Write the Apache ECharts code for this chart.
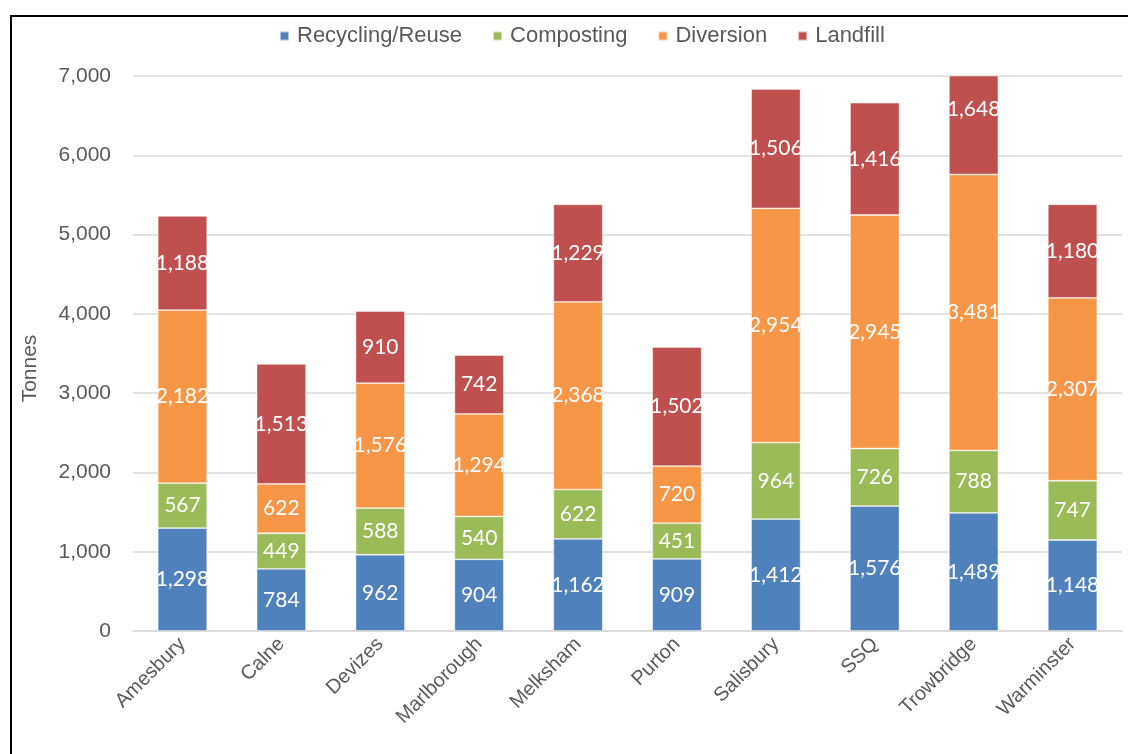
<!DOCTYPE html>
<html>
<head>
<meta charset="utf-8">
<script src="https://cdn.jsdelivr.net/npm/echarts@6/dist/echarts.min.js"></script>
<style>
  html, body { margin: 0; padding: 0; background: #fff; }
  #chart { width: 1128px; height: 754px; }
  #frame { position: absolute; left: 10px; top: 15px; width: 1140px; height: 760px;
           border: 2px solid #000; pointer-events: none; }
</style>
</head>
<body>
<div id="chart"></div>
<div id="frame"></div>
<script>
// Waste tonnages by household recycling centre
const sites = ['Amesbury', 'Calne', 'Devizes', 'Marlborough', 'Melksham', 'Purton',
               'Salisbury', 'SSQ', 'Trowbridge', 'Warminster'];
const recycling  = [1298, 784, 962, 904, 1162, 909, 1412, 1576, 1489, 1148];
const composting = [567, 449, 588, 540, 622, 451, 964, 726, 788, 747];
const diversion  = [2182, 622, 1576, 1294, 2368, 720, 2954, 2945, 3481, 2307];
const landfill   = [1188, 1513, 910, 742, 1229, 1502, 1506, 1416, 1648, 1180];

const seriesNames = ['Recycling/Reuse', 'Composting', 'Diversion', 'Landfill'];
const seriesColors = ['#4F81BD', '#9BBB59', '#F79646', '#C0504D'];
const seriesData = [recycling, composting, diversion, landfill];

const Y_MAX = 7000;
const AXIS_FONT = 'Liberation Sans, Arial, sans-serif';
const fmt = v => v.toLocaleString('en-US');

const chart = echarts.init(document.getElementById('chart'), null, { renderer: 'canvas' });

function buildSeries(offsets) {
  return seriesNames.map((name, i) => ({
    name,
    type: 'bar',
    stack: 'total',
    barWidth: '50%',
    data: seriesData[i].map((v, j) => {
      const off = offsets ? offsets[i][j] : 0;
      return off ? { value: v, label: { offset: [0, off] } } : v;
    }),
    itemStyle: { color: seriesColors[i], borderColor: 'rgba(255,255,255,0.55)', borderWidth: 0.8 },
    label: {
      show: true,
      position: 'inside',
      formatter: p => fmt(p.value),
      fontFamily: 'Lato, Open Sans, sans-serif',
      fontSize: 21,
      color: '#ffffff'
    }
  }));
}

chart.setOption({
  animation: false,
  backgroundColor: '#ffffff',
  legend: {
    top: 20,
    left: 274,
    itemWidth: 9,
    itemHeight: 9,
    itemGap: 30,
    icon: 'rect',
    textStyle: { fontFamily: AXIS_FONT, fontSize: 22, color: '#595959', padding: [0, 0, 0, 3] },
    data: seriesNames
  },
  grid: { left: 133, right: 6, top: 76, bottom: 123 },
  xAxis: {
    type: 'category',
    data: sites,
    axisLine: { lineStyle: { color: '#d9d9d9', width: 1.5 } },
    axisTick: { show: false },
    axisLabel: {
      rotate: 45,
      interval: 0,
      margin: 10,
      fontFamily: AXIS_FONT,
      fontSize: 20,
      color: '#595959'
    }
  },
  yAxis: {
    type: 'value',
    min: 0,
    max: Y_MAX,
    interval: 1000,
    name: 'Tonnes',
    nameLocation: 'middle',
    nameRotate: 90,
    nameGap: 92,
    nameTextStyle: { fontFamily: AXIS_FONT, fontSize: 21, color: '#595959', padding: [0, 30, 0, 0] },
    axisLine: { show: false },
    axisTick: { show: false },
    splitLine: { lineStyle: { color: '#d9d9d9', width: 1.5 } },
    axisLabel: {
      margin: 22,
      formatter: v => fmt(v),
      fontFamily: AXIS_FONT,
      fontSize: 21,
      color: '#595959'
    }
  },
  series: buildSeries(null)
});

// Segments running past the axis maximum are clipped; keep their labels
// centred on the full segment, as the value scale places it.
const offsets = seriesData.map(() => sites.map(() => 0));
sites.forEach((_, j) => {
  let base = 0;
  seriesData.forEach((arr, i) => {
    const top = base + arr[j];
    if (top > Y_MAX) {
      const full = chart.convertToPixel({ yAxisIndex: 0 }, (base + top) / 2);
      const clipped = chart.convertToPixel({ yAxisIndex: 0 }, (base + Math.min(top, Y_MAX)) / 2);
      offsets[i][j] = full - clipped;
    }
    base = top;
  });
});
chart.setOption({ series: buildSeries(offsets) });
</script>
</body>
</html>
